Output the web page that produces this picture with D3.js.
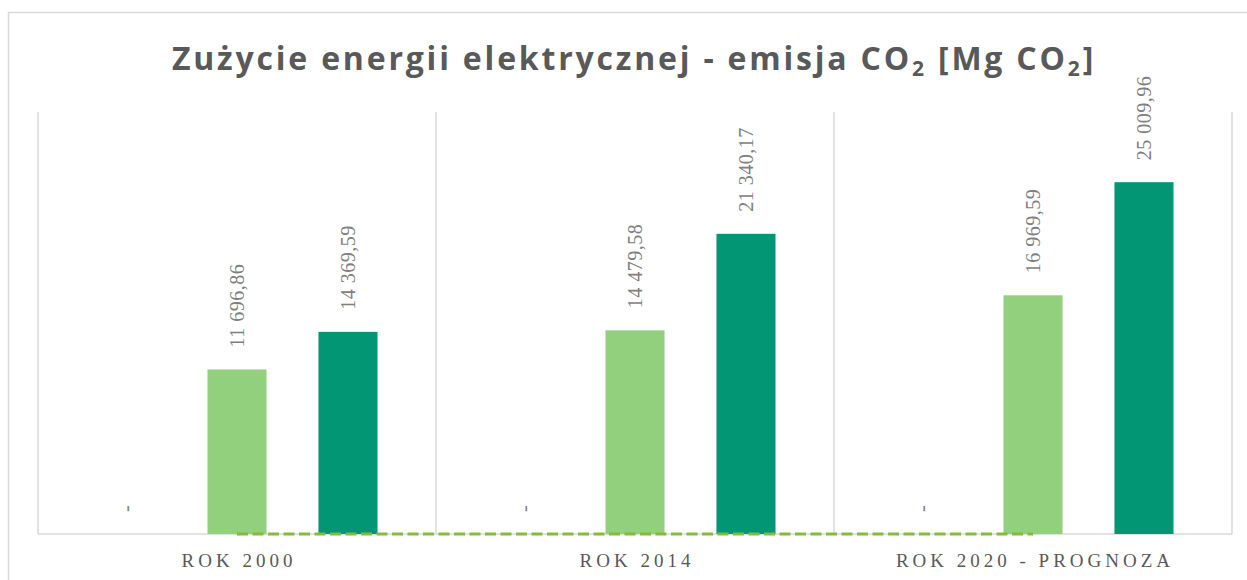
<!DOCTYPE html>
<html>

<head>
    <meta charset="utf-8">
    <script src="https://d3js.org/d3.v7.min.js"></script>
    <style>
        body { margin: 0; background: #fff; }
    </style>
    <script>
        // dane
        let categories = ["ROK 2000", "ROK 2014", "ROK 2020 - PROGNOZA"];
        let seriesNames = ["s1", "s2", "s3"];
        let series1 = [0, 0, 0];
        let series2 = [11696.86, 14479.58, 16969.59];
        let series3 = [14369.59, 21340.17, 25009.96];
        let lineValues = [0, 0, 0];
        let yMax = 30000;

        let colors = { s1: "#5b9bd5", s2: "#93d07e", s3: "#029675" };

        function draw() {
            let width = 1247;
            let height = 580;
            let plot = { left: 38, right: 1232, top: 112, bottom: 534 };

            let svg = d3.select('body').append('svg')
                .attr('width', width)
                .attr('height', height);

            // ramka wykresu
            svg.append('rect')
                .attr('x', 8.5).attr('y', 12.5)
                .attr('width', 1270).attr('height', 620)
                .attr('fill', 'none')
                .attr('stroke', '#d9d9d9')
                .attr('stroke-width', 1.5);

            // tytuł
            let title = svg.append('text')
                .attr('x', 634).attr('y', 70)
                .attr('text-anchor', 'middle')
                .style('font-family', '"Open Sans", sans-serif')
                .style('font-weight', 'bold')
                .style('font-size', '32px')
                .style('letter-spacing', '2.8px')
                .attr('fill', '#595959');
            title.append('tspan').text('Zużycie energii elektrycznej - emisja CO');
            title.append('tspan').text('2').style('font-size', '21px').attr('dy', 6);
            title.append('tspan').text(' [Mg CO').attr('dy', -6);
            title.append('tspan').text('2').style('font-size', '21px').attr('dy', 6);
            title.append('tspan').text(']').attr('dy', -6);

            let x0 = d3.scaleBand()
                .domain(categories)
                .range([plot.left, plot.right])
                .padding(0);

            let x1 = d3.scaleBand()
                .domain(seriesNames)
                .range([0, x0.bandwidth()])
                .paddingInner(0.468)
                .paddingOuter(0.527);

            let y = d3.scaleLinear()
                .domain([0, yMax])
                .range([plot.bottom, plot.top]);

            // linie siatki pionowe (granice kategorii)
            let bounds = categories.map(c => x0(c)).concat([plot.right]);
            svg.selectAll('line.grid')
                .data(bounds)
                .enter()
                .append('line')
                .attr('class', 'grid')
                .attr('x1', d => d).attr('x2', d => d)
                .attr('y1', plot.top).attr('y2', plot.bottom)
                .attr('stroke', '#d9d9d9')
                .attr('stroke-width', 1.5);

            // oś pozioma
            svg.append('line')
                .attr('x1', plot.left).attr('x2', plot.right)
                .attr('y1', plot.bottom).attr('y2', plot.bottom)
                .attr('stroke', '#d9d9d9')
                .attr('stroke-width', 1.5);

            let rows = [];
            categories.forEach(function (c, i) {
                rows.push({ cat: c, s: 's1', v: series1[i] });
                rows.push({ cat: c, s: 's2', v: series2[i] });
                rows.push({ cat: c, s: 's3', v: series3[i] });
            });

            svg.selectAll('rect.bar')
                .data(rows)
                .enter()
                .append('rect')
                .attr('class', 'bar')
                .attr('x', d => x0(d.cat) + x1(d.s))
                .attr('y', d => y(d.v))
                .attr('width', x1.bandwidth())
                .attr('height', d => plot.bottom - y(d.v))
                .attr('fill', d => colors[d.s]);

            // etykiety danych
            let pl = d3.formatLocale({ decimal: ",", thousands: "\u00a0", grouping: [3], currency: ["", ""] });
            let fmt = pl.format(",.2f");

            svg.selectAll('text.lbl')
                .data(rows)
                .enter()
                .append('text')
                .attr('class', 'lbl')
                .attr('transform', d => 'translate(' + (x0(d.cat) + x1(d.s) + x1.bandwidth() / 2) + ',' + (y(d.v) - 22) + ') rotate(-90)')
                .attr('dy', '0.33em')
                .attr('text-anchor', 'start')
                .style('font-family', '"Liberation Serif", serif')
                .style('font-size', '20px')
                .style('letter-spacing', '0.5px')
                .attr('fill', '#7f7f7f')
                .text(d => d.v === 0 ? '-' : fmt(d.v));

            // seria liniowa (przerywana)
            let line = d3.line()
                .x((d, i) => x0(categories[i]) + x0.bandwidth() / 2)
                .y(d => y(d));

            svg.append('path')
                .datum(lineValues)
                .attr('d', line)
                .attr('fill', 'none')
                .attr('stroke', '#86bc34')
                .attr('stroke-width', 3)
                .attr('stroke-dasharray', '11,4.5');

            // etykiety kategorii
            let ls = 4;
            svg.selectAll('text.cat')
                .data(categories)
                .enter()
                .append('text')
                .attr('class', 'cat')
                .attr('x', d => x0(d) + x0.bandwidth() / 2 + ls / 2)
                .attr('y', 567)
                .attr('text-anchor', 'middle')
                .style('font-family', '"Liberation Serif", serif')
                .style('font-size', '19px')
                .style('letter-spacing', ls + 'px')
                .attr('fill', '#595959')
                .text(d => d);
        }
    </script>
</head>

<body>
    <script>
        draw();
    </script>
</body>

</html>
